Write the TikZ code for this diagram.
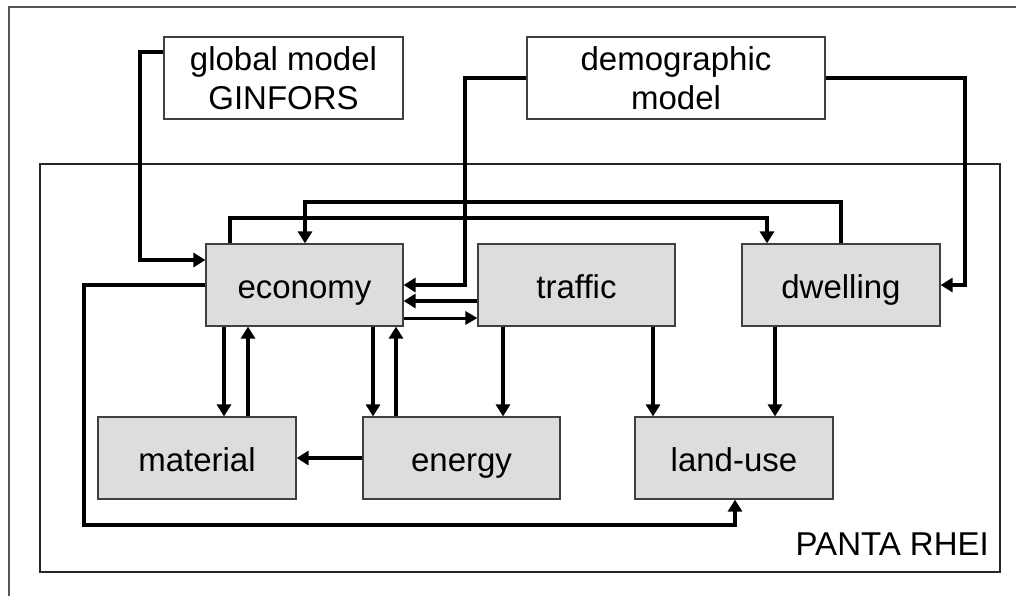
\documentclass[tikz,border=0pt]{standalone}
\usepackage{fontspec}
\setmainfont{Liberation Sans}
\usetikzlibrary{arrows.meta}
\definecolor{boxfill}{HTML}{DDDDDD}
\definecolor{boxline}{HTML}{404040}
\definecolor{frameline}{HTML}{555555}
\begin{document}
\begin{tikzpicture}[x=1pt,y=-1pt,
  modelbox/.style={draw=boxline,line width=1.2pt,fill=white,inner sep=0pt,
    minimum height=82pt,align=center,font=\fontsize{33}{39}\selectfont},
  subbox/.style={draw=boxline,line width=1.2pt,fill=boxfill,inner sep=0pt,
    minimum width=197pt,minimum height=82pt,text height=30pt,text depth=3pt,
    font=\fontsize{33}{39}\selectfont},
  arr/.style={line width=4.7pt,-{Triangle[width=14pt,length=12pt]},line join=miter},
  arrthin/.style={line width=3pt,-{Triangle[width=13pt,length=12pt]}}
]
\useasboundingbox (0,0) rectangle (1016,595);
% outer frame (clipped by page)
\draw[frameline,line width=1.5pt] (9,600) -- (9,7) -- (1020,7);
% PANTA RHEI frame
\draw[black!85,line width=1.3pt] (40,164) rectangle (1000,572);
\node[anchor=base east,font=\fontsize{33}{39}\selectfont,inner sep=0pt] (panta) at (989,555) {PANTA RHEI};

\node[modelbox,minimum width=239pt] (glob) at (283.5,78) {global model\\GINFORS};
\node[modelbox,minimum width=298pt] (demo) at (676,78) {demographic\\model};

\node[subbox] (eco) at (304.5,285) {economy};
\node[subbox] (traf) at (576.5,285) {traffic};
\node[subbox,minimum width=198pt] (dwel) at (841,285) {dwelling};
\node[subbox,minimum width=198pt] (mat) at (197,458) {material};
\node[subbox] (ene) at (461.5,458) {energy};
\node[subbox,minimum width=198pt] (land) at (734,458) {land-use};

% global -> economy
\draw[arr] (glob.west |- 0,52) -| (140,260) -- (eco.west |- 0,260);
% demographic -> economy
\draw[arr] (demo.west) -| (465,285) -- (eco.east);
% demographic -> dwelling
\draw[arr] (demo.east) -| (965,285) -- (dwel.east);
% economy -> dwelling
\draw[arr] (230,0 |- eco.north) |- (767,218) -- (767,0 |- dwel.north);
% dwelling -> economy
\draw[arr] (841,0 |- dwel.north) |- (305,202) -- (305,0 |- eco.north);
% traffic <-> economy
\draw[arr] (traf.west |- 0,301) -- (eco.east |- 0,301);
\draw[arrthin] (eco.east |- 0,318) -- (traf.west |- 0,318);
% economy <-> material
\draw[arr] (224,0 |- eco.south) -- (224,0 |- mat.north);
\draw[arr] (248,0 |- mat.north) -- (248,0 |- eco.south);
% economy <-> energy
\draw[arr] (373,0 |- eco.south) -- (373,0 |- ene.north);
\draw[arr] (396,0 |- ene.north) -- (396,0 |- eco.south);
% traffic -> energy, traffic -> land-use, dwelling -> land-use
\draw[arr] (503,0 |- traf.south) -- (503,0 |- ene.north);
\draw[arr] (653,0 |- traf.south) -- (653,0 |- land.north);
\draw[arr] (775,0 |- dwel.south) -- (775,0 |- land.north);
% energy -> material
\draw[arr] (ene.west) -- (mat.east);
% economy -> land-use
\draw[arr] (eco.west) -| (84,525) -| (735,0 |- land.south);
\end{tikzpicture}
\end{document}
